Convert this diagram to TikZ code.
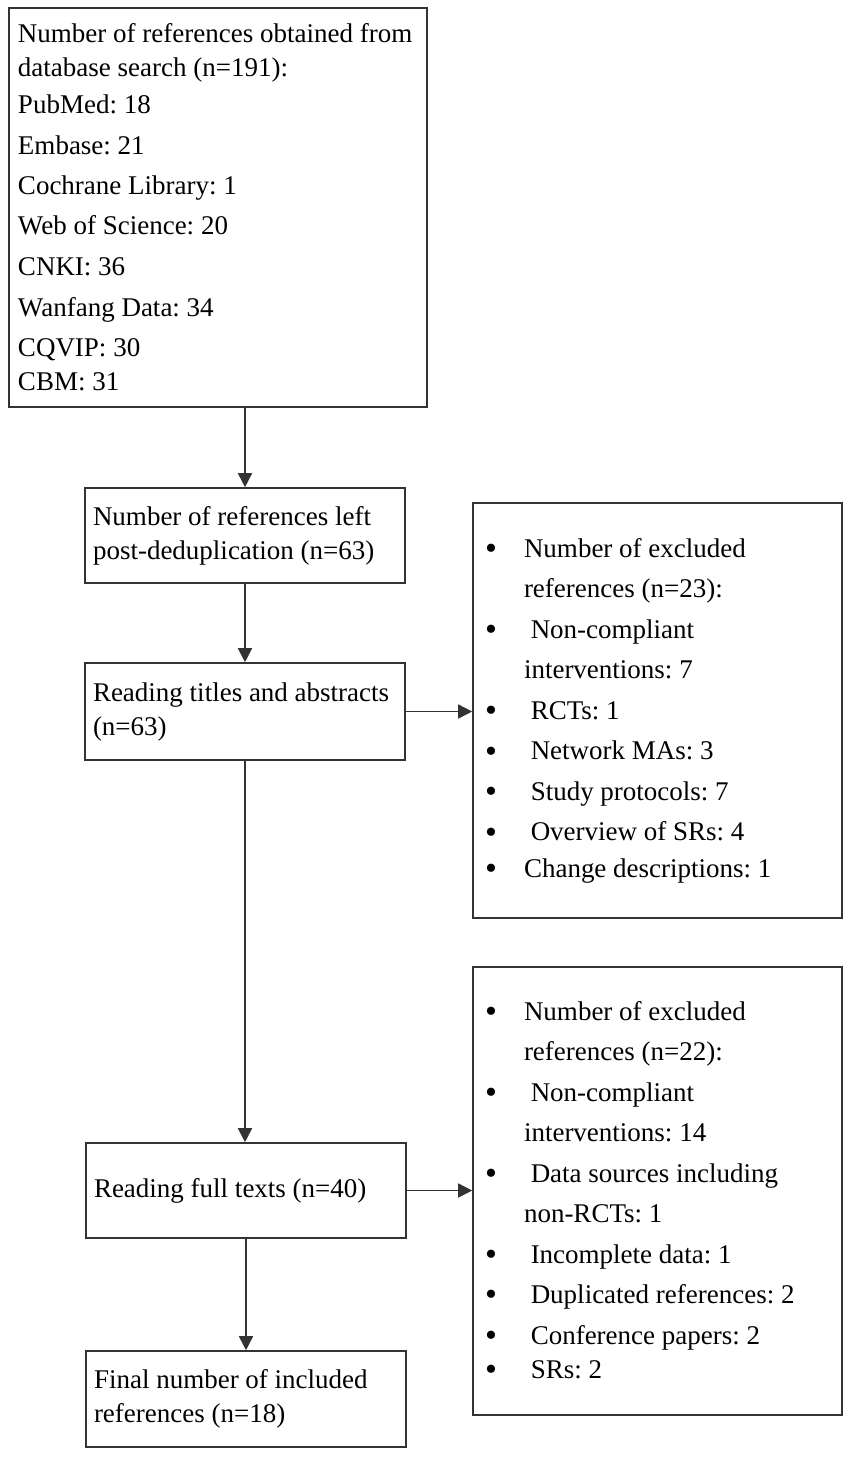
\documentclass[tikz,border=0pt]{standalone}
\usepackage{fontspec}
\setmainfont{Liberation Serif}
\usetikzlibrary{calc,positioning,arrows.meta}
\newcommand{\bul}{\makebox[19.5pt][l]{\raisebox{-1.2pt}{\fontsize{17}{17}\selectfont\textbullet}}}
\newcommand{\ind}{\hspace*{19.5pt}}
\frenchspacing

\begin{document}
\begin{tikzpicture}[x=0.5pt,y=-0.5pt,
  box/.style={draw=black!80,line width=0.8pt,inner xsep=4pt,inner ysep=0pt,
    align=flush left,font=\fontsize{13.5}{17}\selectfont},
  flowbox/.style={box,text width=152pt,minimum width=160pt},
  exbox/.style={box,inner xsep=6pt,text width=172.5pt,minimum width=184.5pt,
    font=\fontsize{13.5}{20.25}\selectfont},
  arr/.style={draw=black!80,line width=0.8pt,-{Triangle[length=7pt,width=7pt]}}]
\useasboundingbox (0,0) rectangle (852,1458);

% main column
\node[box,inner xsep=4.5pt,text width=200pt,minimum width=209pt,minimum height=199.5pt] (search) at (218,207.5)
  {\mbox{Number of references obtained from}\\
   database search (n=191):\\[1.5pt]
   PubMed: 18\\[3.5pt]
   Embase: 21\\[3pt]
   Cochrane Library: 1\\[3pt]
   Web of Science: 20\\[3.5pt]
   CNKI: 36\\[3.5pt]
   Wanfang Data: 34\\[3pt]
   CQVIP: 30\\
   CBM: 31};
\node[flowbox,minimum height=47.5pt] (dedup) at (245,535.5)
  {Number of references left\\ post-deduplication (n=63)};
\node[flowbox,minimum height=48.5pt] (titles) at (245,711.5)
  {\mbox{Reading titles and abstracts}\\ (n=63)};
\node[flowbox,minimum height=47.5pt] (full) at (246,1190.5)
  {Reading full texts (n=40)};
\node[flowbox,minimum height=48pt] (final) at (246,1399)
  {Final number of included\\ references (n=18)};

% exclusions
\node[exbox,minimum height=207.5pt] (excl1) at (657.5,710.5)
  {\bul Number of excluded\\
   \ind references (n=23):\\
   \bul\ Non-compliant\\
   \ind interventions: 7\\
   \bul\ RCTs: 1\\
   \bul\ Network MAs: 3\\
   \bul\ Study protocols: 7\\
   \bul\ Overview of SRs: 4\\[-2pt]
   \bul Change descriptions: 1};
\node[exbox,minimum height=224pt] (excl2) at (657.5,1191)
  {\bul Number of excluded\\
   \ind references (n=22):\\
   \bul\ Non-compliant\\
   \ind interventions: 14\\
   \bul\ Data sources including\\
   \ind non-RCTs: 1\\
   \bul\ Incomplete data: 1\\
   \bul\ Duplicated references: 2\\
   \bul\ Conference papers: 2\\[-3pt]
   \bul\ SRs: 2};

\draw[arr] (dedup.north |- search.south) -- (dedup.north);
\draw[arr] (dedup) -- (titles);
\draw[arr] (titles.south) -- (titles.south |- full.north);
\draw[arr] (full) -- (final);
\draw[arr] (titles.east) -- (titles.east -| excl1.west);
\draw[arr] (full.east) -- (full.east -| excl2.west);
\end{tikzpicture}
\end{document}
